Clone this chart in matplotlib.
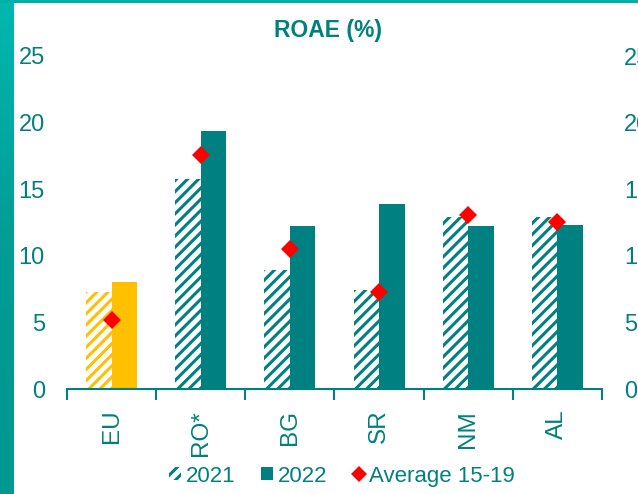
import matplotlib
matplotlib.use("Agg")
import matplotlib.pyplot as plt
import numpy as np
from matplotlib.patches import Patch, Rectangle
from matplotlib.lines import Line2D
from matplotlib.colors import LinearSegmentedColormap

plt.rcParams['font.family'] = ['Liberation Sans', 'DejaVu Sans']
plt.rcParams['hatch.linewidth'] = 2.2

categories = ['EU', 'RO*', 'BG', 'SR', 'NM', 'AL']
v2021 = [7.3, 15.8, 8.9, 7.4, 12.9, 12.9]
v2022 = [8.0, 19.4, 12.2, 13.9, 12.2, 12.3]
avg1519 = [5.2, 17.6, 10.5, 7.3, 13.1, 12.5]
yticks = [0, 5, 10, 15, 20, 25]

TEAL = '#008080'
TXT = '#00807F'
YEL = '#FFC000'
RED = '#FF0000'

W, H = 638, 494
fig = plt.figure(figsize=(W / 100, H / 100), dpi=100)
fig.patch.set_facecolor('white')

# decorative frame: left gradient stripe and top stripe
bax = fig.add_axes([0, 0, 14 / W, 1])
grad = np.linspace(0, 1, 256).reshape(-1, 1)
cm = LinearSegmentedColormap.from_list('g', ['#009891', '#009c95', '#00b8b0'])
bax.imshow(grad, aspect='auto', cmap=cm, origin='lower', extent=[0, 1, 0, 1])
bax.axis('off')
fig.patches.append(Rectangle((0, 1 - 3.5 / H), 1, 3.5 / H, transform=fig.transFigure,
                             facecolor='#00b0a8', edgecolor='none', zorder=5))

ax = fig.add_axes([67 / W, 105 / H, 535 / W, 333 / H])
x = np.arange(len(categories))
bw = 0.286

ec21 = [YEL] + [TEAL] * (len(categories) - 1)
c22 = [YEL] + [TEAL] * (len(categories) - 1)

ax.bar(x - bw / 2, v2021, width=bw, facecolor='white', edgecolor=ec21,
       hatch='///', linewidth=0, zorder=2)
ax.bar(x + bw / 2, v2022, width=bw, color=c22, linewidth=0, zorder=2)
ax.plot(x, avg1519, linestyle='none', marker='D', markersize=9.5,
        color=RED, markeredgewidth=0, zorder=3)

ax.set_xlim(-0.5, len(categories) - 0.5)
ax.set_ylim(0, 25)
for s in ['left', 'right', 'top']:
    ax.spines[s].set_visible(False)
ax.spines['bottom'].set_color(TEAL)
ax.spines['bottom'].set_linewidth(1.5)

ax.set_xticks(x)
ax.set_xticklabels(categories, rotation=90, fontsize=17.5, color=TXT)
ax.set_xticks(np.arange(len(categories) + 1) - 0.5, minor=True)
ax.tick_params(axis='x', which='major', length=0, pad=15)
ax.tick_params(axis='x', which='minor', length=8, width=1.5, color=TEAL)

ax.set_yticks(yticks)
ax.set_yticklabels([str(t) for t in yticks], fontsize=17, color=TXT)
ax.tick_params(axis='y', length=0, pad=16)

ax2 = ax.twinx()
ax2.set_ylim(0, 25)
ax2.set_yticks(yticks)
ax2.set_yticklabels([str(t) for t in yticks], fontsize=17, color=TXT)
ax2.tick_params(axis='y', length=0, pad=16)
for s in ['left', 'right', 'top', 'bottom']:
    ax2.spines[s].set_visible(False)

fig.text(328 / W, 1 - 30 / H, 'ROAE (%)', ha='center', va='center',
         fontsize=16.5, fontweight='bold', color=TXT)

handles = [
    Patch(facecolor='white', edgecolor=TEAL, hatch='///', linewidth=0),
    Patch(facecolor=TEAL, edgecolor='none'),
    Line2D([], [], linestyle='none', marker='D', markersize=8, color=RED, markeredgewidth=0),
]
leg = fig.legend(handles, ['2021', '2022', 'Average 15-19'], loc='center',
                 bbox_to_anchor=(342 / W, 1 - 476 / H), ncol=3, frameon=False,
                 fontsize=16, handlelength=0.55, handleheight=0.55,
                 handletextpad=0.2, columnspacing=1.15, borderpad=0)
for t in leg.get_texts():
    t.set_color(TXT)

fig.savefig('out.png', dpi=100, facecolor='white')
